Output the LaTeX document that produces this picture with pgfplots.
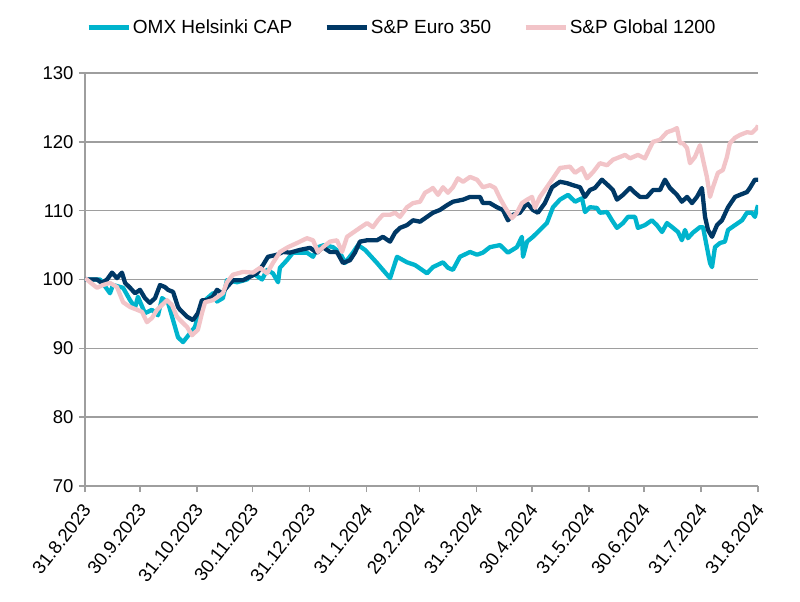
\documentclass[border=0pt]{standalone}
\usepackage{fontspec}
\setmainfont{Liberation Sans}
\usepackage{pgfplots}
\pgfplotsset{compat=1.18}
\definecolor{omx}{HTML}{00B4CD}
\definecolor{euro}{HTML}{003865}
\definecolor{glob}{HTML}{F2C4C8}
\definecolor{gridc}{HTML}{9E9E9E}
\begin{document}
\begin{tikzpicture}
\begin{axis}[
  scale only axis, width=673pt, height=413pt,
  xmin=0, xmax=366, ymin=70, ymax=130,
  ytick={70,80,90,100,110,120,130},
  xtick={0,30,61,91,122,153,182,213,243,274,304,335,366},
  xticklabels={31.8.2023,30.9.2023,31.10.2023,30.11.2023,31.12.2023,31.1.2024,29.2.2024,31.3.2024,30.4.2024,31.5.2024,30.6.2024,31.7.2024,31.8.2024},
  xticklabel style={xshift=4pt, yshift=-12pt, rotate=52, anchor=east, font=\fontsize{18.5}{18.5}\selectfont},
  yticklabel style={xshift=-2pt, font=\fontsize{18.5}{18.5}\selectfont},
  /pgf/number format/assume math mode=true,
  ymajorgrids, grid style={gridc, line width=1.6pt},
  axis x line*=bottom, axis y line*=left,
  axis line style={gridc, line width=1.6pt, -},
  tick style={gridc, line width=1.6pt},
  tick align=outside, major tick length=6pt,
  legend columns=3,
  legend style={at={(0.471,1.11)}, anchor=center, draw=none, fill=none,
    font=\fontsize{19}{19}\selectfont,
    /tikz/every even column/.append style={column sep=30pt}},
  legend image code/.code={\draw[#1, line width=4.5pt] (0pt,0pt) -- (40pt,0pt);},
  every axis plot/.append style={line width=4.3pt, line join=round},
]
\addplot[omx] coordinates {
(0,100) (8.2,100) (13.6,98) (15.2,99.2) (20.7,98.8) (24.5,97) (27.2,95.9) (28.8,97.5)
(32.6,95.1) (36.4,95.6) (39.7,94.8) (41.9,97.3) (45.1,96.7) (47.9,94.1) (50.6,91.6)
(53.3,90.9) (59.8,93.1) (63.6,96.6) (69.6,98) (71.8,96.8) (75,97.3) (77.2,99.9)
(82.7,99.6) (88.1,100) (91.4,100.9) (96.3,100) (99,101.4) (102.2,100.9) (105,99.6)
(106,101.7) (109.8,102.8) (113.1,103.9) (120.7,103.9) (124,103.3) (126.7,104.7)
(130,105) (134.9,104.7) (138.7,103.9) (141.4,102.4) (145.7,103.9) (148.5,105)
(152.3,104.3) (158.8,102.4) (162,101.4) (165.9,100.2) (169.7,103.3) (175.1,102.5)
(179.5,102.1) (186,100.9) (189.2,101.8) (194.7,102.5) (197.4,101.7) (200.1,101.4)
(203.9,103.3) (209.4,104) (213.2,103.6) (216.4,103.9) (220.2,104.7) (225.7,105)
(230,103.9) (234.9,104.7) (237.6,106.2) (238.2,103.3) (240.4,105.5) (243.6,106.2)
(247.4,107.2) (251.2,108.2) (254.5,110.5) (258.3,111.6) (262.7,112.3) (266.5,111.3)
(270.3,111.8) (271.9,109.8) (274.6,110.5) (278.4,110.4) (280,109.7) (283.9,109.8)
(286.6,108.6) (289.3,107.5) (292.6,108.2) (295.3,109.1) (299.1,109.1) (300.7,107.5)
(304.5,107.9) (308.3,108.6) (311,107.9) (313.8,106.9) (316.5,108.2) (319.8,107.5)
(322.5,106.9) (324.6,105.7) (326.3,107.2) (327.9,106) (330.6,106.8) (334.4,107.6)
(336.1,107.6) (338.2,104.7) (339.9,102.4) (341,101.8) (342.6,104.7) (345.3,105.3)
(348,105.5) (349.7,107.2) (353.5,107.9) (357.3,108.6) (360,109.7) (362.7,109.7)
(364.3,109.1) (366,110.8)
};
\addlegendentry{OMX Helsinki CAP}
\addplot[euro] coordinates {
(0,100) (6.5,100) (9.2,99.5) (12,100) (14.7,101) (17.4,100.2) (20.1,101) (21.8,99.5)
(24.5,98.8) (27.2,98) (29.9,98.5) (32.6,97.3) (35.3,96.6) (38.1,97.3) (40.8,99.2)
(43.5,98.9) (45.1,98.5) (47.9,98.2) (50.6,96) (51.7,95.6) (55.5,94.6) (58.7,94.1)
(61.4,95.1) (63.6,97) (66.3,97) (69.6,97.5) (71.8,98.5) (74.5,98) (77.2,98.9)
(80.5,99.9) (85.9,99.9) (89.7,100.4) (93.5,100.9) (96.8,102.1) (99.5,103.3)
(104.4,103.6) (107.7,104) (111.5,103.9) (116.9,104.3) (122.4,104.6) (126.2,103.9)
(129.4,104.7) (133.2,104) (137,104) (140.3,102.4) (144.1,102.8) (146.8,103.9)
(149.5,105.5) (153.4,105.7) (158.8,105.7) (162,106.2) (165.9,105.5) (168.6,106.8)
(171.3,107.5) (175.1,107.9) (178.4,108.6) (182.2,108.4) (186,109.1) (189.2,109.7)
(193,110.1) (196.9,110.8) (200.1,111.3) (205.6,111.6) (209.4,112) (214.8,112)
(216.4,111.1) (220.2,111.1) (224,110.5) (227.3,110.1) (230,108.6) (232.7,109.4)
(236.5,109.7) (240.4,111.1) (243.6,110.1) (246.3,109.7) (250.1,111.1) (254,113.4)
(258.3,114.2) (262.1,114) (265.4,113.7) (269.2,113.4) (271.9,112) (274.6,113)
(277.3,113.3) (281.1,114.5) (284.4,113.7) (287.1,113) (289.3,111.6) (292.6,112.3)
(296.4,113.3) (299.1,112.6) (301.8,112) (305.6,112) (308.9,113) (312.7,113)
(315.4,114.5) (318.1,113.3) (321.9,112.3) (324.6,111.3) (327.4,112) (330.1,111.1)
(332.8,112) (335.5,113.3) (337.2,109.1) (338.8,107.2) (341,106.2) (343.7,107.9)
(346.4,108.6) (349.7,110.5) (353.5,112) (356.2,112.3) (360,112.7) (361.6,113.3)
(364.3,114.5) (366,114.5)
};
\addlegendentry{S\&P Euro 350}
\addplot[glob] coordinates {
(0,100.2) (6.5,98.8) (9.8,99.2) (13.6,99.5) (17.4,98.9) (20.7,96.7) (24.5,96)
(28.3,95.6) (31,95.3) (33.7,93.8) (36.4,94.4) (39.2,95.6) (41.9,96.3) (44.6,97)
(47.3,96.3) (50,94.6) (51.7,94.1) (55.5,93.1) (58.2,91.9) (61.4,92.7) (63.6,95.1)
(65.3,96.7) (69.6,97) (75,98) (77.2,99.6) (80.5,100.7) (85.9,101.1) (91.4,101)
(95.2,101.7) (99,100.9) (102.2,102.4) (106,104) (110.4,104.7) (115.3,105.3)
(120.7,106) (124,105.7) (126.7,104) (129.4,104.7) (133.2,105.5) (137,105.7)
(139.8,104) (142.5,106.2) (145.7,106.8) (149.5,107.5) (153.4,108.2) (156.6,107.6)
(159.3,108.6) (162,109.4) (165.9,109.4) (168.6,109.7) (171.3,109.1) (175.1,110.5)
(178.4,111.1) (182.2,111.3) (184.9,112.6) (187.6,113) (189.2,113.3) (192,112.3)
(194.7,113.4) (197.4,112.6) (200.1,113.4) (202.8,114.7) (205.6,114.2) (209.4,114.9)
(213.2,114.5) (216.4,113.4) (220.2,113.7) (223,113.3) (225.7,111.8) (228.4,110.5)
(232.2,108.9) (234.9,109.7) (237.6,111.1) (240.4,111.6) (243.1,112) (244.7,110.4)
(247.4,112) (250.1,113) (254,114.5) (258.3,116.2) (263.7,116.4) (266.5,115.5)
(270.3,116.2) (273,114.7) (276.3,115.6) (280,116.9) (283.9,116.6) (287.1,117.4)
(290.9,117.8) (293.7,118.1) (296.4,117.6) (300.7,118.1) (304.5,117.6) (307.2,119.1)
(308.9,120) (312.7,120.3) (316.5,121.4) (319.8,121.7) (321.9,122) (323.6,119.8)
(325.2,119.8) (327.4,119.1) (329,116.9) (331.7,117.8) (334.4,119.5) (336.1,117.4)
(338.2,114.9) (339.9,112) (341.5,113.4) (344.2,115.5) (346.9,115.9) (349.1,117.8)
(350.7,119.8) (353.5,120.6) (356.2,121) (360,121.4) (362.7,121.3) (365.4,122)
(366,122.4)
};
\addlegendentry{S\&P Global 1200}
\end{axis}
\pgfresetboundingbox
\useasboundingbox (-85pt,-116pt) rectangle (715pt,486pt);
\end{tikzpicture}
\end{document}
